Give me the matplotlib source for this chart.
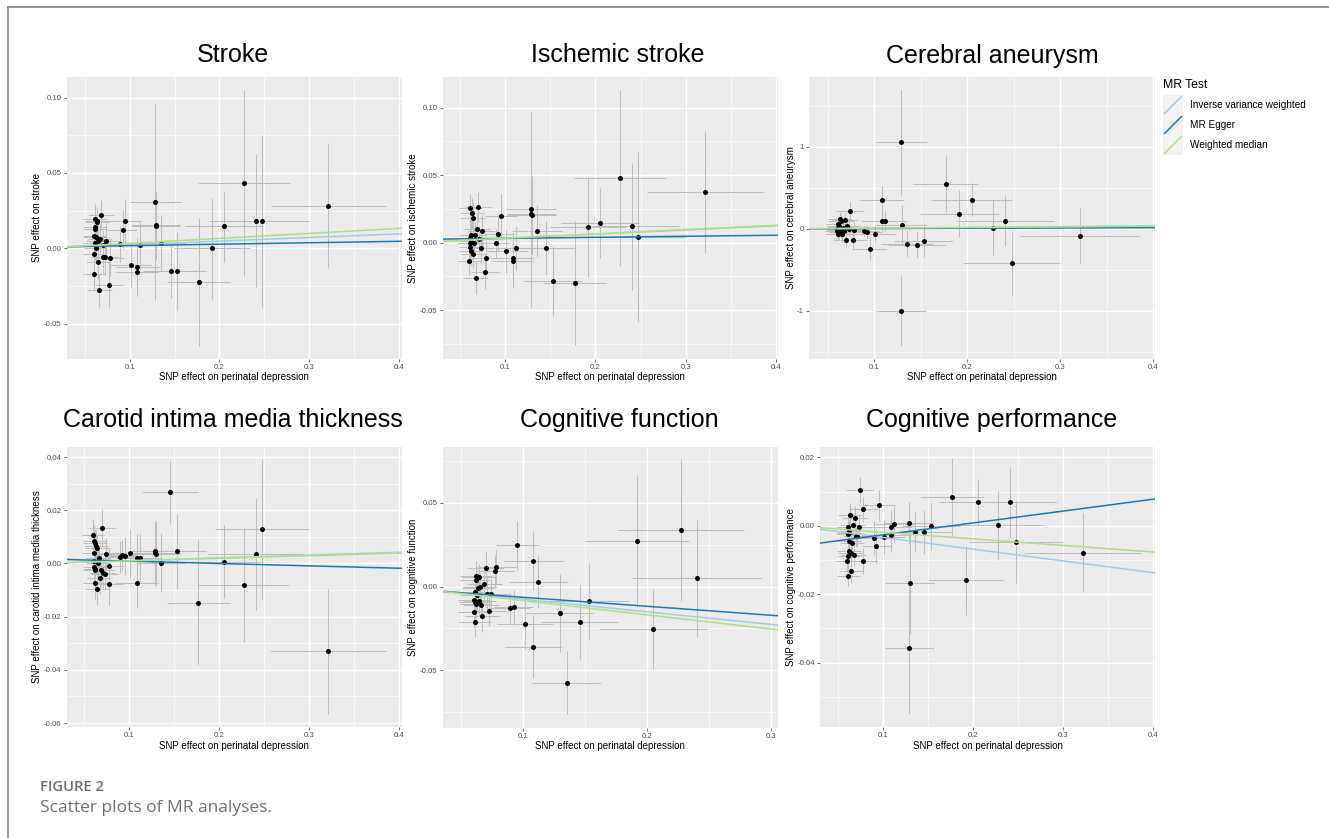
import matplotlib
matplotlib.use("Agg")
import matplotlib.pyplot as plt
import numpy as np
from matplotlib.lines import Line2D
from matplotlib.patches import Rectangle
from matplotlib.ticker import FixedLocator

plt.rcParams['font.family'] = ['Liberation Sans', 'DejaVu Sans']

# ---------------- data ----------------
# SNP effects on the exposure (perinatal depression) and their standard errors
snp_bx = [0.0600, 0.0603, 0.0607, 0.0610, 0.0612, 0.0615, 0.0618, 0.0620, 0.0622, 0.0633, 0.0640,
          0.0645, 0.0652, 0.0660, 0.0670, 0.0685, 0.0700, 0.0705, 0.0725, 0.0740, 0.0770, 0.0780,
          0.0892, 0.0922, 0.0952, 0.1011, 0.1082, 0.1082, 0.1119, 0.1286, 0.1293, 0.1290, 0.1350,
          0.1456, 0.1530, 0.1768, 0.1916, 0.2049, 0.2272, 0.2405, 0.2476, 0.3214]
snp_sebx = [0.0125, 0.0128, 0.0130, 0.0126, 0.0131, 0.0127, 0.0133, 0.0129, 0.0135, 0.0132, 0.0138,
            0.0134, 0.0136, 0.0140, 0.0137, 0.0142, 0.0145, 0.0139, 0.0148, 0.0150, 0.0155, 0.0158,
            0.016, 0.016, 0.0176, 0.0226, 0.024, 0.023, 0.0238, 0.028, 0.027, 0.027, 0.0276,
            0.031, 0.032, 0.035, 0.042, 0.0435, 0.051, 0.0525, 0.0525, 0.0645]

nan = float('nan')

stroke_by = [-0.0173, -0.004, 0.008, 0.0033, 0.0195, 0.0144, 0.0131, 0.0, 0.0073, 0.0173, 0.0181,
             -0.0093, 0.0051, -0.0277, 0.0062, 0.0221, -0.0055, 0.002, -0.0055, 0.0051, -0.0241, -0.0062,
             0.0031, 0.0124, 0.0179, -0.0111, -0.0124, -0.0159, 0.002, 0.0308, 0.015, 0.0155, 0.0038,
             -0.015, -0.015, -0.0226, 0.0, 0.0146, 0.0434, 0.0184, 0.0181, 0.0283]
stroke_se = [0.011, 0.010, 0.012, 0.011, 0.010, 0.011, 0.012, 0.010, 0.011, 0.010, 0.009,
             0.012, 0.011, 0.011, 0.010, 0.010, 0.011, 0.010, 0.012, 0.011, 0.015, 0.012,
             0.012, 0.013, 0.015, 0.015, 0.019, 0.016, 0.0155, 0.065, 0.023, 0.022, 0.018,
             0.018, 0.0256, 0.0425, 0.0334, 0.0236, 0.062, 0.044, 0.057, 0.0415]

isch_by = [-0.014, 0.0035, 0.0, 0.0253, -0.0034, 0.0056, 0.002, -0.006, 0.001, 0.0221, 0.0182,
           -0.0088, 0.0, 0.0059, -0.026, 0.0098, 0.0265, 0.0025, -0.0044, 0.0083, -0.0216, -0.0118,
           -0.0007, 0.0064, 0.0196, -0.0064, -0.0115, -0.0135, -0.0042, 0.0245, 0.0204, 0.021, 0.0086,
           -0.0042, -0.0285, -0.0302, 0.0118, 0.0142, 0.0479, 0.012, 0.0042, 0.0373]
isch_se = [0.010, 0.011, 0.010, 0.011, 0.010, 0.011, 0.010, 0.011, 0.010, 0.011, 0.012,
           0.010, 0.011, 0.010, 0.012, 0.011, 0.011, 0.010, 0.011, 0.012, 0.013, 0.012,
           0.011, 0.0125, 0.016, 0.016, 0.019, 0.02, 0.016, 0.072, 0.029, 0.03, 0.019,
           0.02, 0.026, 0.046, 0.037, 0.026, 0.065, 0.047, 0.063, 0.045]

aneu_by = [-0.02, 0.0, 0.01, 0.06, -0.065, -0.01, -0.03, 0.03, 0.02, 0.122, 0.10,
           -0.04, -0.065, 0.016, -0.02, 0.11, -0.13, 0.03, 0.004, 0.223, -0.13, -0.012,
           -0.028, -0.037, -0.243, -0.057, 0.353, 0.093, 0.093, 1.059, 0.045, -1.0, -0.178,
           -0.195, -0.142, 0.544, 0.187, 0.357, 0.016, 0.097, -0.42, -0.085]
aneu_se = [0.08, 0.07, 0.09, 0.08, 0.07, 0.08, 0.09, 0.07, 0.08, 0.09, 0.08,
           0.07, 0.08, 0.09, 0.08, 0.09, 0.10, 0.08, 0.09, 0.11, 0.12, 0.10,
           0.07, 0.08, 0.13, 0.10, 0.175, 0.12, 0.13, 0.64, 0.245, 0.43, 0.17,
           0.16, 0.20, 0.34, 0.29, 0.20, 0.34, 0.30, 0.39, 0.345]

cimt_by = [0.0107, 0.004, 0.001, -0.0015, 0.0083, -0.0073, 0.0076, -0.0025, -0.002, 0.0064, 0.006,
           -0.0096, 0.0, 0.002, -0.0056, -0.0024, 0.0133, -0.0034, -0.0039, 0.0035, -0.0078, -0.001,
           0.0023, 0.003, 0.0028, 0.0039, -0.0073, 0.002, 0.0021, 0.004, 0.0035, 0.0045, 0.0003,
           0.0267, 0.0045, -0.0147, nan, 0.0006, -0.008, 0.0036, 0.0129, -0.0331]
cimt_se = [0.006, 0.005, 0.006, 0.005, 0.006, 0.006, 0.005, 0.006, 0.005, 0.006, 0.005,
           0.006, 0.006, 0.005, 0.006, 0.006, 0.007, 0.006, 0.006, 0.006, 0.008, 0.007,
           0.006, 0.006, 0.007, 0.009, 0.0095, 0.009, 0.009, 0.012, 0.012, 0.011, 0.011,
           0.012, 0.014, 0.0236, nan, 0.0137, 0.0215, 0.021, 0.0265, 0.0235]

cogf_by = [-0.0155, -0.008, -0.0094, -0.0213, -0.0032, -0.0104, 0.0064, 0.0036, -0.005, -0.0008, 0.0056,
           -0.0086, -0.0002, -0.011, -0.0179, 0.0018, 0.0112, -0.0042, -0.0147, -0.0046, 0.009, 0.0116,
           -0.0131, -0.0122, 0.0247, -0.0227, 0.0155, -0.036, 0.0028, nan, -0.0159, nan, -0.0574,
           -0.0213, -0.0088, nan, 0.0275, -0.0255, 0.034, 0.005, nan, nan]
cogf_se = [0.009, 0.008, 0.009, 0.009, 0.008, 0.009, 0.009, 0.008, 0.009, 0.009, 0.008,
           0.009, 0.009, 0.008, 0.009, 0.009, 0.010, 0.009, 0.009, 0.009, 0.010, 0.010,
           0.009, 0.010, 0.0147, 0.0145, 0.0175, 0.019, 0.0155, nan, 0.0235, nan, 0.019,
           0.022, 0.023, nan, 0.039, 0.024, 0.0425, 0.035, nan, nan]

cogp_by = [-0.0104, -0.0005, -0.0024, -0.0087, -0.0146, -0.0015, -0.002, -0.0046, -0.0075, 0.0031, -0.008,
           -0.0133, -0.005, 0.0002, -0.0085, 0.0023, -0.0029, -0.003, -0.0004, 0.0104, -0.0102, 0.0048,
           -0.0036, -0.006, 0.006, -0.0034, -0.0005, -0.0028, 0.0004, 0.0008, -0.0166, -0.0356, -0.0019,
           -0.0018, -0.0002, 0.0083, -0.016, 0.007, 0.0001, 0.0068, -0.0047, -0.0079]
cogp_se = [0.0035, 0.003, 0.0032, 0.0035, 0.003, 0.0033, 0.003, 0.0034, 0.0032, 0.0035, 0.0033,
           0.0034, 0.003, 0.0036, 0.0033, 0.0035, 0.0034, 0.003, 0.0036, 0.0037, 0.0038, 0.0036,
           0.005, 0.005, 0.0045, 0.005, 0.005, 0.005, 0.0055, 0.006, 0.015, 0.0195, 0.0058,
           0.0064, 0.0068, 0.0115, 0.01, 0.0068, 0.01, 0.0105, 0.012, 0.0115]

# MR method estimates (slope, intercept) for: IVW, MR Egger, Weighted median
methods = ["Inverse variance weighted", "MR Egger", "Weighted median"]
method_colors = ["#A6CEE3", "#1F78B4", "#B2DF8A"]
stroke_slope, stroke_int = [0.024, 0.0097, 0.033], [0.0, 0.0008, 0.0]
isch_slope, isch_int = [0.031, 0.0078, 0.032], [0.0, 0.0023, 0.0]
aneu_slope, aneu_int = [0.088, 0.040, 0.085], [0.0, -0.0003, 0.0]
cimt_slope, cimt_int = [0.0105, -0.0089, 0.0097], [0.0, 0.00177, 0.0]
cogf_slope, cogf_int = [-0.0756, -0.0536, -0.0848], [0.0, -0.0011, 0.0]
cogp_slope, cogp_int = [-0.0343, 0.03465, -0.0192], [0.0, -0.0061, 0.0]

titles = ["Stroke", "Ischemic stroke", "Cerebral aneurysm",
          "Carotid intima media thickness", "Cognitive function", "Cognitive performance"]
ylabels = ["SNP effect on stroke", "SNP effect on ischemic stroke", "SNP effect on cerebral aneurysm",
           "SNP effect on carotid intima media thickness", "SNP effect on cognitive function",
           "SNP effect on cognitive performance"]
xlabel = "SNP effect on perinatal depression"

panel_by = [stroke_by, isch_by, aneu_by, cimt_by, cogf_by, cogp_by]
panel_se = [stroke_se, isch_se, aneu_se, cimt_se, cogf_se, cogp_se]
panel_slope = [stroke_slope, isch_slope, aneu_slope, cimt_slope, cogf_slope, cogp_slope]
panel_int = [stroke_int, isch_int, aneu_int, cimt_int, cogf_int, cogp_int]

xticks_main = [0.1, 0.2, 0.3, 0.4]
xticks_cogf = [0.1, 0.2, 0.3]
yticks = [[-0.05, 0.0, 0.05, 0.10], [-0.05, 0.0, 0.05, 0.10], [-1, 0, 1],
          [-0.06, -0.04, -0.02, 0.0, 0.02, 0.04], [-0.05, 0.0, 0.05], [-0.04, -0.02, 0.0, 0.02]]
yticklabels = [["-0.05", "0.00", "0.05", "0.10"], ["-0.05", "0.00", "0.05", "0.10"], ["-1", "0", "1"],
               ["-0.06", "-0.04", "-0.02", "0.00", "0.02", "0.04"], ["-0.05", "0.00", "0.05"],
               ["-0.04", "-0.02", "0.00", "0.02"]]
xlims = [(0.0296, 0.403), (0.0305, 0.4022), (0.0298, 0.4018),
         (0.0304, 0.403), (0.0349, 0.3054), (0.0297, 0.4019)]
ylims = [(-0.0731, 0.1135), (-0.0859, 0.1224), (-1.58, 1.849),
         (-0.0616, 0.0439), (-0.0843, 0.0836), (-0.0589, 0.0231)]

# ---------------- layout (pixels) ----------------
W, H = 1329, 838
boxes = [(66.5, 77.3, 401.7, 358.5), (442.7, 77.3, 777.7, 358.5), (809.0, 77.3, 1155.0, 358.5),
         (66.7, 446.7, 401.7, 727.3), (442.7, 446.7, 777.7, 727.5), (820.0, 446.7, 1155.0, 727.3)]
title_pos = [(233, 62.5), (618, 62.5), (992, 62.5), (233, 427), (619, 427), (992, 427)]
ylab_x = [37.3, 412.7, 790.7, 37.3, 412.7, 790.7]
xlab_y = [377.3, 377.3, 377.3, 745.7, 745.7, 745.7]

fig = plt.figure(figsize=(W / 100, H / 100), dpi=100)
fig.patch.set_facecolor("white")


def minor_between(ticks, lo, hi):
    step = ticks[1] - ticks[0]
    vals = []
    v = ticks[0] - step / 2
    while v <= hi + 1e-12:
        if v >= lo - 1e-12:
            vals.append(v)
        v += step
    return vals


bx = np.array(snp_bx)
sebx = np.array(snp_sebx)

for i in range(6):
    x0, y0, x1, y1 = boxes[i]
    ax = fig.add_axes([x0 / W, 1 - y1 / H, (x1 - x0) / W, (y1 - y0) / H])
    ax.set_facecolor("#EBEBEB")
    for s in ax.spines.values():
        s.set_visible(False)
    by = np.array(panel_by[i])
    se = np.array(panel_se[i])
    ok = ~np.isnan(by)
    ax.errorbar(bx[ok], by[ok], yerr=se[ok], fmt="none", ecolor="#BEBEBE", elinewidth=0.7, capsize=0, zorder=2)
    ax.errorbar(bx[ok], by[ok], xerr=sebx[ok], fmt="none", ecolor="#BEBEBE", elinewidth=0.7, capsize=0, zorder=2)
    ax.scatter(bx[ok], by[ok], s=13, color="black", linewidths=0, zorder=3)
    for k in range(3):
        ax.axline((0.0, panel_int[i][k]), slope=panel_slope[i][k], color=method_colors[k], lw=1.1, zorder=4)
    ax.set_xlim(*xlims[i])
    ax.set_ylim(*ylims[i])
    xt = xticks_cogf if i == 4 else xticks_main
    ax.xaxis.set_major_locator(FixedLocator(xt))
    ax.set_xticklabels([f"{t:.1f}" for t in xt])
    ax.xaxis.set_minor_locator(FixedLocator(minor_between(xt, *xlims[i])))
    ax.yaxis.set_major_locator(FixedLocator(yticks[i]))
    ax.set_yticklabels(yticklabels[i])
    ax.yaxis.set_minor_locator(FixedLocator(minor_between(yticks[i], *ylims[i])))
    ax.grid(which="major", color="white", lw=0.95)
    ax.grid(which="minor", color="white", lw=0.45)
    ax.set_axisbelow(True)
    ax.tick_params(which="major", length=2.5, width=0.5, color="#333333",
                   labelsize=5.6, labelcolor="#4D4D4D", pad=1.2)
    ax.tick_params(which="minor", length=0)

    axw, axh = x1 - x0, y1 - y0
    ax.set_ylabel(ylabels[i], fontsize=7, color="black")
    ax.yaxis.label.set(ha="center", va="center", rotation_mode="default")
    ax.yaxis.set_label_coords((ylab_x[i] - x0) / axw, 0.5)
    ax.set_xlabel(xlabel, fontsize=7, color="black")
    ax.xaxis.label.set(ha="center", va="center")
    ax.xaxis.set_label_coords(0.5, (y1 - xlab_y[i]) / axh)

    tx, ty = title_pos[i]
    fig.text(tx / W, 1 - ty / H, titles[i], fontsize=18, ha="center", va="baseline", color="black")

# ---------------- legend ----------------
fig.text(1163 / W, 1 - 87.7 / H, "MR Test", fontsize=8.8, ha="left", va="baseline", color="black")
for k in range(3):
    ky0 = 95 + 20 * k
    fig.patches.append(Rectangle((1163 / W, 1 - (ky0 + 20) / H), 20 / W, 20 / H,
                                 transform=fig.transFigure, facecolor="#F2F2F2", edgecolor="none"))
    fig.lines.append(Line2D([1164.5 / W, 1181.5 / W], [1 - (ky0 + 18.5) / H, 1 - (ky0 + 1.5) / H],
                            transform=fig.transFigure, color=method_colors[k], lw=1.1))
    fig.text(1190 / W, 1 - (ky0 + 10) / H, methods[k], fontsize=7.2, ha="left", va="center", color="black")

# ---------------- frame and caption ----------------
fig.lines.append(Line2D([7.5 / W, 1.0], [1 - 7.5 / H, 1 - 7.5 / H], transform=fig.transFigure,
                        color="#8E8E8E", lw=1.3))
fig.lines.append(Line2D([7.5 / W, 7.5 / W], [0.0, 1 - 7.5 / H], transform=fig.transFigure,
                        color="#8E8E8E", lw=1.3))
fig.text(40.5 / W, 1 - 791 / H, "FIGURE 2", fontsize=10.6, fontweight="semibold",
         family=["Open Sans", "DejaVu Sans"], color="#6E6E6E", ha="left", va="baseline")
fig.text(40.5 / W, 1 - 812 / H, "Scatter plots of MR analyses.", fontsize=12.5,
         family=["Open Sans", "DejaVu Sans"], color="#707070", ha="left", va="baseline")

fig.savefig("out.png", dpi=100, facecolor="white")
